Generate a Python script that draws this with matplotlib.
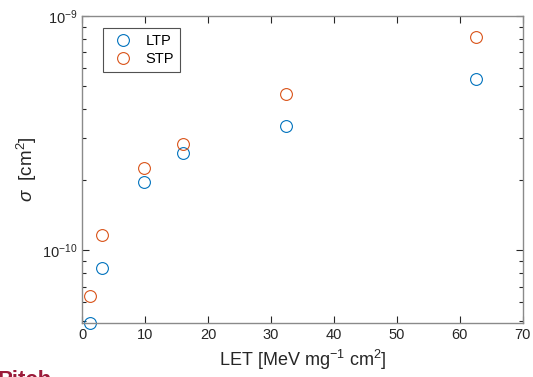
import matplotlib

matplotlib.use("Agg")
import matplotlib.pyplot as plt
from matplotlib.ticker import LogLocator, NullFormatter

# LET values and cross sections
let_ltp = [1.2, 3.2, 9.9, 16.1, 32.4, 62.5]
sigma_ltp = [4.9e-11, 8.4e-11, 1.96e-10, 2.6e-10, 3.4e-10, 5.4e-10]
let_stp = [1.2, 3.2, 9.9, 16.1, 32.4, 62.5]
sigma_stp = [6.4e-11, 1.16e-10, 2.25e-10, 2.85e-10, 4.65e-10, 8.1e-10]
x_ticks = [0, 10, 20, 30, 40, 50, 60, 70]
series_names = ["LTP", "STP"]

plt.rcParams["font.family"] = ["Liberation Sans", "DejaVu Sans"]
plt.rcParams["mathtext.fontset"] = "custom"
plt.rcParams["mathtext.rm"] = "Liberation Sans"
plt.rcParams["mathtext.it"] = "Liberation Sans:italic"
plt.rcParams["mathtext.default"] = "rm"

fig = plt.figure(figsize=(5.33, 3.77), dpi=100)
ax = fig.add_axes([0.154, 0.143, 0.827, 0.815])

blue = "#0072BD"
orange = "#D95319"
ax.plot(let_ltp, sigma_ltp, "o", ms=8.5, mfc="none", mec=blue, mew=0.8,
        label=series_names[0], clip_on=False)
ax.plot(let_stp, sigma_stp, "o", ms=8.5, mfc="none", mec=orange, mew=0.8,
        label=series_names[1], clip_on=False)

ax.set_yscale("log")
ax.set_xlim(0, 70)
ax.set_ylim(4.9e-11, 1e-9)
ax.set_xticks(x_ticks)
ax.yaxis.set_major_locator(LogLocator(base=10, numticks=10))
ax.yaxis.set_minor_locator(LogLocator(base=10, subs=range(2, 10), numticks=20))
ax.yaxis.set_minor_formatter(NullFormatter())

for side in ["left", "right", "top", "bottom"]:
    ax.spines[side].set_color("#8a8a8a")
    ax.spines[side].set_linewidth(1.0)
ax.tick_params(which="both", direction="in", top=True, right=True,
               colors="#262626", labelsize=10.5)
ax.tick_params(which="major", length=5, width=0.8)
ax.tick_params(which="minor", length=3, width=0.8)

ax.set_xlabel("LET [MeV mg$^{-1}$ cm$^{2}$]", fontsize=13, color="#262626",
              labelpad=4)
ax.set_ylabel(r"$\mathit{\sigma}$  [cm$^{2}$]", fontsize=13.5, color="#262626",
              labelpad=2)

leg = ax.legend(loc="upper left", bbox_to_anchor=(0.048, 0.961), frameon=True,
                fancybox=False, edgecolor="#262626", fontsize=10.5,
                handletextpad=0.6, borderpad=0.4, labelspacing=0.3,
                handlelength=1.9, borderaxespad=0)
leg.get_frame().set_linewidth(0.8)

# cropped watermark remnant at the bottom left
fig.text(-0.004, 1 - 370 / 377, "Pitch", fontsize=16, fontweight="bold",
         color="#9b1b3a", ha="left", va="top")

fig.savefig("out.png", dpi=100)
